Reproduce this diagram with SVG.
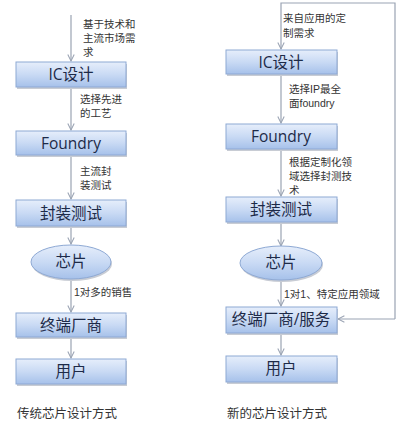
<svg xmlns="http://www.w3.org/2000/svg" width="400" height="432" viewBox="0 0 400 432">
<defs>
<linearGradient id="g" x1="0" y1="0" x2="0" y2="1">
<stop offset="0" stop-color="#e6eefb"/>
<stop offset="0.5" stop-color="#c9daf4"/>
<stop offset="1" stop-color="#a6c1ea"/>
</linearGradient>
<marker id="ah" viewBox="0 0 10 10" refX="9" refY="5" markerWidth="8" markerHeight="8" orient="auto" markerUnits="userSpaceOnUse">
<path d="M1,1 L9,5 L1,9" fill="none" stroke="#9aa3b3" stroke-width="1.3"/>
</marker>
</defs>
<style>
.box{fill:url(#g);stroke:#8ea9d4;stroke-width:1}
.sh{fill:#c8ccd4}
.bt{font-family:"Open Sans","Noto Sans CJK SC",sans-serif;font-size:15.5px;fill:#1d2a48;text-anchor:middle}
.lb{font-family:"Liberation Sans","Noto Sans CJK SC",sans-serif;font-size:10.5px;fill:#333}
.cap{font-family:"Liberation Sans","Noto Sans CJK SC",sans-serif;font-size:12.5px;fill:#333}
.c{fill:none;stroke:#9aa3b3;stroke-width:1.2}
</style>
<rect width="400" height="432" fill="#fff"/>
<g id="connectors">
<line class="c" x1="71" y1="15" x2="71" y2="61" marker-end="url(#ah)"/>
<line class="c" x1="71" y1="88" x2="71" y2="130" marker-end="url(#ah)"/>
<line class="c" x1="71" y1="156" x2="71" y2="199" marker-end="url(#ah)"/>
<line class="c" x1="71" y1="227" x2="71" y2="244" marker-end="url(#ah)"/>
<line class="c" x1="71" y1="279" x2="71" y2="312" marker-end="url(#ah)"/>
<line class="c" x1="71" y1="338" x2="71" y2="358" marker-end="url(#ah)"/>
<polyline class="c" points="395,319 395,3 281,3 281,49" marker-end="url(#ah)"/>
<line class="c" x1="395" y1="319" x2="338" y2="319" marker-end="url(#ah)"/>
<line class="c" x1="281" y1="75" x2="281" y2="123" marker-end="url(#ah)"/>
<line class="c" x1="281" y1="150" x2="281" y2="196" marker-end="url(#ah)"/>
<line class="c" x1="281" y1="223" x2="281" y2="246" marker-end="url(#ah)"/>
<line class="c" x1="281" y1="280" x2="281" y2="306" marker-end="url(#ah)"/>
<line class="c" x1="281" y1="334" x2="281" y2="355" marker-end="url(#ah)"/>
</g>
<g id="labels-left">
<text class="lb" x="83" y="28">基于技术和</text>
<text class="lb" x="83" y="42">主流市场需</text>
<text class="lb" x="83" y="56">求</text>
<text class="lb" x="80" y="103">选择先进</text>
<text class="lb" x="80" y="117">的工艺</text>
<text class="lb" x="80" y="175">主流封</text>
<text class="lb" x="80" y="189">装测试</text>
<text class="lb" x="74" y="296">1对多的销售</text>
</g>
<g id="labels-right">
<text class="lb" x="283" y="22">来自应用的定</text>
<text class="lb" x="283" y="37">制需求</text>
<text class="lb" x="289" y="93">选择IP最全</text>
<text class="lb" x="289" y="107">面foundry</text>
<text class="lb" x="289" y="166">根据定制化领</text>
<text class="lb" x="289" y="180">域选择封测技</text>
<text class="lb" x="289" y="194">术</text>
<text class="lb" x="284" y="298">1对1、特定应用领域</text>
</g>
<g id="l-ic"><rect class="sh" x="17" y="64" width="110" height="25"/><rect class="box" x="16" y="62" width="110" height="25"/><text class="bt" x="71" y="80">IC设计</text></g>
<g id="l-foundry"><rect class="sh" x="17" y="133" width="110" height="24"/><rect class="box" x="16" y="131" width="110" height="24"/><text class="bt" x="71" y="149">Foundry</text></g>
<g id="l-pack"><rect class="sh" x="17" y="202" width="110" height="26"/><rect class="box" x="16" y="200" width="110" height="26"/><text class="bt" x="71" y="219">封装测试</text></g>
<g id="l-chip"><ellipse class="sh" cx="72" cy="264" rx="40" ry="17"/><ellipse class="box" cx="71" cy="262" rx="40" ry="17"/><text class="bt" x="71" y="267">芯片</text></g>
<g id="l-oem"><rect class="sh" x="17" y="315" width="110" height="24"/><rect class="box" x="16" y="313" width="110" height="24"/><text class="bt" x="71" y="331">终端厂商</text></g>
<g id="l-user"><rect class="sh" x="17" y="361" width="110" height="25"/><rect class="box" x="16" y="359" width="110" height="25"/><text class="bt" x="71" y="377">用户</text></g>
<g id="r-ic"><rect class="sh" x="227" y="52" width="111" height="24"/><rect class="box" x="226" y="50" width="111" height="24"/><text class="bt" x="281" y="68">IC设计</text></g>
<g id="r-foundry"><rect class="sh" x="227" y="126" width="111" height="25"/><rect class="box" x="226" y="124" width="111" height="25"/><text class="bt" x="281" y="142">Foundry</text></g>
<g id="r-pack"><rect class="sh" x="227" y="199" width="111" height="25"/><rect class="box" x="226" y="197" width="111" height="25"/><text class="bt" x="281" y="215">封装测试</text></g>
<g id="r-chip"><ellipse class="sh" cx="282" cy="265" rx="41" ry="17"/><ellipse class="box" cx="281" cy="263" rx="41" ry="17"/><text class="bt" x="281" y="268">芯片</text></g>
<g id="r-oem"><rect class="sh" x="227" y="309" width="111" height="26"/><rect class="box" x="226" y="307" width="111" height="26"/><text class="bt" x="281" y="325">终端厂商/服务</text></g>
<g id="r-user"><rect class="sh" x="227" y="358" width="111" height="26"/><rect class="box" x="226" y="356" width="111" height="26"/><text class="bt" x="281" y="374">用户</text></g>
<text class="cap" x="17" y="418">传统芯片设计方式</text>
<text class="cap" x="227" y="418">新的芯片设计方式</text>
</svg>
